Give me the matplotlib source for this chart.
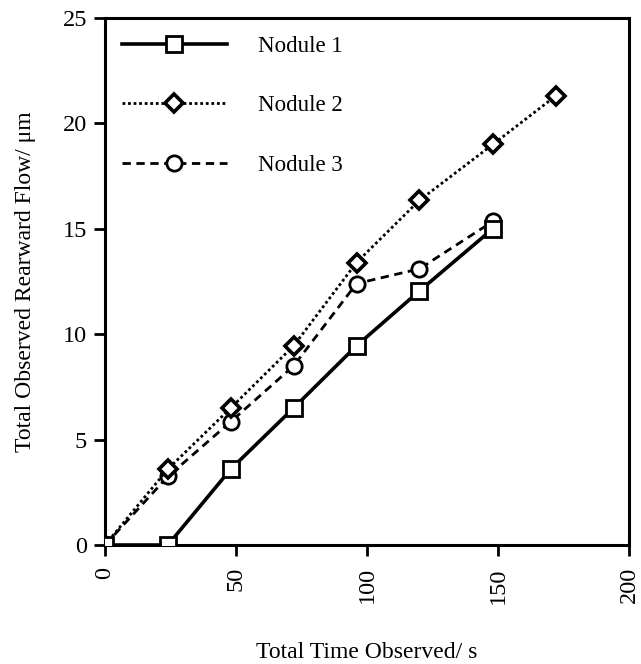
import matplotlib
matplotlib.use("Agg")
from matplotlib import pyplot as plt

# values
time_1 = [0, 24, 48, 72, 96, 120, 148]
flow_1 = [0, 0, 3.6, 6.5, 9.45, 12.05, 15.0]

time_2 = [0, 24, 48, 72, 96, 120, 148, 172]
flow_2 = [0, 3.6, 6.5, 9.45, 13.4, 16.35, 19.0, 21.3]

time_3 = [0, 24, 48, 72, 96, 120, 148]
flow_3 = [0, 3.25, 5.85, 8.5, 12.4, 13.1, 15.35]

labels = ["Nodule 1", "Nodule 2", "Nodule 3"]
xticks = [0, 50, 100, 150, 200]
yticks = [0, 5, 10, 15, 20, 25]

plt.rcParams['font.family'] = ['Liberation Serif', 'DejaVu Serif']

fig = plt.figure(figsize=(6.41, 6.64), dpi=100)
ax = fig.add_axes([0.1638, 0.1792, 0.8175, 0.7937])

ax.plot(time_3, flow_3, color='black', linestyle=(0, (3, 2)), linewidth=2.0,
        marker='o', markersize=11, markerfacecolor='white', markeredgewidth=2.0,
        label=labels[2], zorder=3)
ax.plot(time_2, flow_2, color='black', linestyle=(0, (1, 1)), linewidth=2.0,
        marker='D', markersize=9, markerfacecolor='white', markeredgewidth=2.6,
        label=labels[1], zorder=4)
ax.plot(time_1, flow_1, color='black', linestyle='-', linewidth=2.6,
        marker='s', markersize=12, markerfacecolor='white', markeredgewidth=2.0,
        label=labels[0], zorder=5)

ax.set_xlim(0, 200)
ax.set_ylim(0, 25)
ax.set_xticks(xticks)
ax.set_yticks(yticks)
ax.set_xticklabels([str(t) for t in xticks], rotation=90)
ax.tick_params(direction='out', length=8, width=2, labelsize=17.5)
ax.tick_params(axis='x', pad=8)
ax.tick_params(axis='y', pad=5)

for s in ax.spines.values():
    s.set_linewidth(2.2)

ax.set_xlabel("Total Time Observed/ s", fontsize=17, labelpad=28)
ax.set_ylabel("Total Observed Rearward Flow/ μm", fontsize=17, labelpad=19)

h, l = ax.get_legend_handles_labels()
ax.legend(h[::-1], l[::-1], loc='upper left', bbox_to_anchor=(0.032, 0.966),
          borderaxespad=0, borderpad=0,
          frameon=False, fontsize=16.5, handlelength=4.6, handletextpad=1.35,
          labelspacing=1.68)

fig.savefig("out.png", dpi=100)
